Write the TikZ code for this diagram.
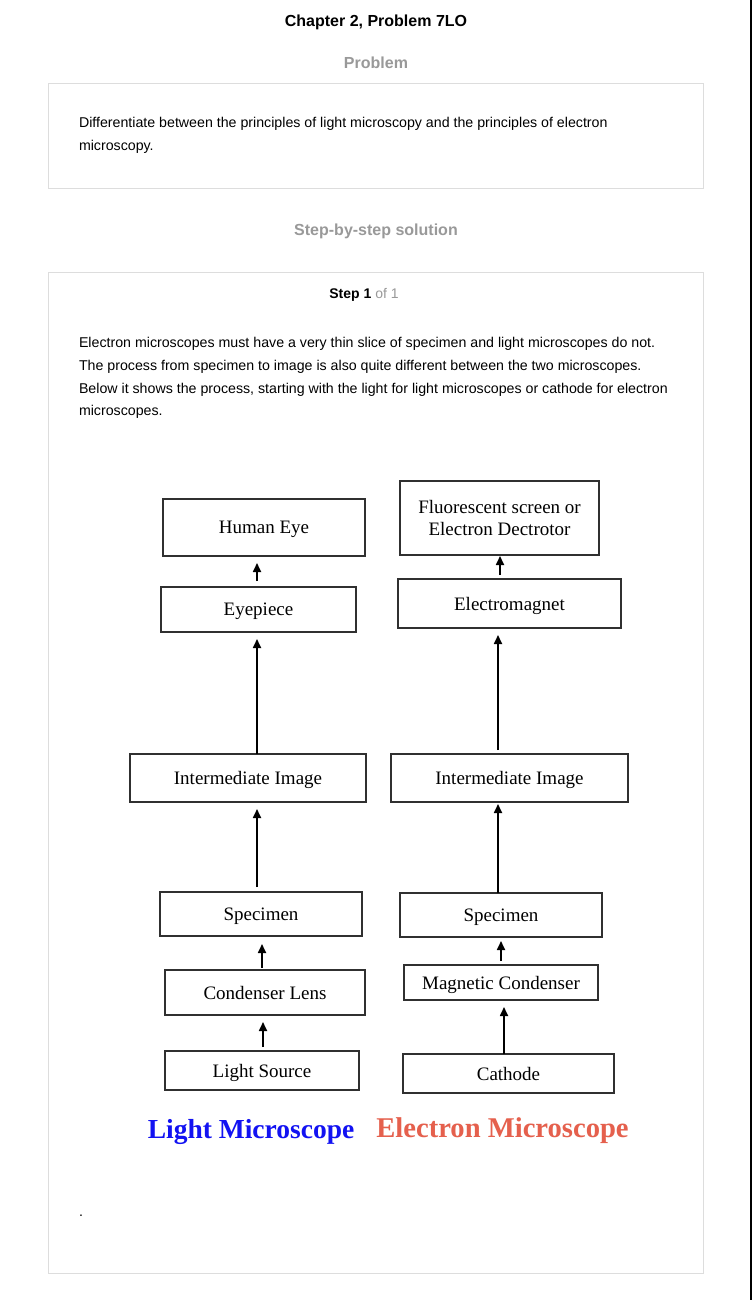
\documentclass[tikz,border=0pt]{standalone}
\usepackage{fontspec}
\setmainfont{Liberation Sans}
\newfontfamily\timesfont{Liberation Serif}
\usetikzlibrary{arrows.meta}

\definecolor{headgray}{HTML}{999999}
\definecolor{panelgray}{HTML}{DDDDDD}
\definecolor{boxline}{HTML}{303030}
\definecolor{lightblue}{HTML}{1212F2}
\definecolor{elred}{HTML}{E5604D}

\tikzset{every node/.style={inner sep=0pt, outer sep=0pt}}

\begin{document}
\begin{tikzpicture}[x=1pt, y=-1pt,
	txt/.style={anchor=base west, font=\fontsize{14.2}{16}\selectfont},
	head/.style={anchor=base, font=\fontsize{16}{19}\selectfont\bfseries},
	panel/.style={draw=panelgray, line width=1pt},
	stage/.style={rectangle, draw=boxline, line width=1.2pt, align=center, text depth=0pt, font=\timesfont\fontsize{19}{22}\selectfont},
	arr/.style={line width=1.7pt, -{Triangle[length=9pt,width=8pt]}},
	caption/.style={anchor=base, font=\timesfont\bfseries\fontsize{27.5}{30}\selectfont}]
			
			\useasboundingbox (0,0) rectangle (752,1300);
			\fill[white] (0,0) rectangle (752,1300);
			\draw[line width=1.5pt] (751,0) -- (751,1300);
			
			% Page headings and panels
			\node[head] (title) at (376,26.5) {Chapter 2, Problem 7LO};
			\node[head, text=headgray] (prob) at (376,68.5) {Problem};
			\draw[panel] (48,84) rectangle (703,189);
			\node[txt] (q1) at (79,128) {Differentiate between the principles of light microscopy and the principles of electron};
			\node[txt] (q2) at (79,151) {microscopy.};
			
			\node[head, text=headgray] (sol) at (376,235) {Step-by-step solution};
			\draw[panel] (48,272) rectangle (703,1273);
			\node[anchor=base, font=\fontsize{14}{16}\selectfont] (step) at (364,298.5) {\textbf{Step 1} \textcolor{headgray}{of 1}};
			
			\node[txt] (a1) at (79,347) {Electron microscopes must have a very thin slice of specimen and light microscopes do not.};
			\node[txt] (a2) at (79,370) {The process from specimen to image is also quite different between the two microscopes.};
			\node[txt] (a3) at (79,393) {Below it shows the process, starting with the light for light microscopes or cathode for electron};
			\node[txt] (a4) at (79,415) {microscopes.};
			\node[txt] (dot) at (79,1216) {.};
			
			% Define stages of the light microscope
			\node[stage, minimum width=202pt, minimum height=57pt] (HE) at (264,527.5) {Human Eye};
			\node[stage, minimum width=195pt, minimum height=45pt] (EP) at (258.5,609.5) {Eyepiece};
			\node[stage, minimum width=236pt, minimum height=48pt] (IL) at (248,778) {Intermediate Image};
			\node[stage, minimum width=202pt, minimum height=44pt] (SL) at (261,914) {Specimen};
			\node[stage, minimum width=200pt, minimum height=45pt] (CL) at (265,992.5) {Condenser Lens};
			\node[stage, minimum width=194pt, minimum height=39pt] (LS) at (262,1070.5) {Light Source};
			
			% Define stages of the electron microscope
			\node[stage, minimum width=199pt, minimum height=74pt] (FS) at (499.5,518) {Fluorescent screen or\\Electron Dectrotor};
			\node[stage, minimum width=223pt, minimum height=49pt] (EM) at (509.5,603.5) {Electromagnet};
			\node[stage, minimum width=237pt, minimum height=48pt] (IR) at (509.5,778) {Intermediate Image};
			\node[stage, minimum width=202pt, minimum height=44pt] (SR) at (501,915) {Specimen};
			\node[stage, minimum width=194pt, minimum height=35pt] (MC) at (501,982.5) {Magnetic Condenser};
			\node[stage, minimum width=211pt, minimum height=39pt] (CA) at (508.5,1073.5) {Cathode};
			
			% Captions
			\node[caption, text=lightblue] (lm) at (251,1138) {Light Microscope};
			\node[caption, text=elred, font=\timesfont\bfseries\fontsize{28.6}{30}\selectfont] (em) at (502.5,1137) {Electron Microscope};
			
			% Arrows of the light microscope
			\draw[arr, shorten <=4pt, shorten >=7pt] ([xshift=1pt]LS.north) -- ([xshift=1pt]LS.north |- CL.south);
			\draw[arr, shorten <=2pt, shorten >=8pt] ([xshift=-3pt]CL.north) -- ([xshift=-3pt]CL.north |- SL.south);
			\draw[arr, shorten <=5pt, shorten >=7pt] ([xshift=-4pt]SL.north) -- ([xshift=-4pt]SL.north |- IL.south);
			\draw[arr, shorten <=0pt, shorten >=7pt] ([xshift=9pt]IL.north) -- ([xshift=9pt]IL.north |- EP.south);
			\draw[arr, shorten <=6pt, shorten >=7pt] ([xshift=-1.5pt]EP.north) -- ([xshift=-1.5pt]EP.north |- HE.south);
			
			% Arrows of the electron microscope
			\draw[arr, shorten <=0pt, shorten >=7pt] ([xshift=-4.5pt]CA.north) -- ([xshift=-4.5pt]CA.north |- MC.south);
			\draw[arr, shorten <=4pt, shorten >=4pt] (MC.north) -- (MC.north |- SR.south);
			\draw[arr, shorten <=0pt, shorten >=2pt] ([xshift=-3pt]SR.north) -- ([xshift=-3pt]SR.north |- IR.south);
			\draw[arr, shorten <=4pt, shorten >=7pt] ([xshift=-11.5pt]IR.north) -- ([xshift=-11.5pt]IR.north |- EM.south);
			\draw[arr, shorten <=4pt, shorten >=1pt] ([xshift=-9.5pt]EM.north) -- ([xshift=-9.5pt]EM.north |- FS.south);
			
		\end{tikzpicture}
\end{document}
